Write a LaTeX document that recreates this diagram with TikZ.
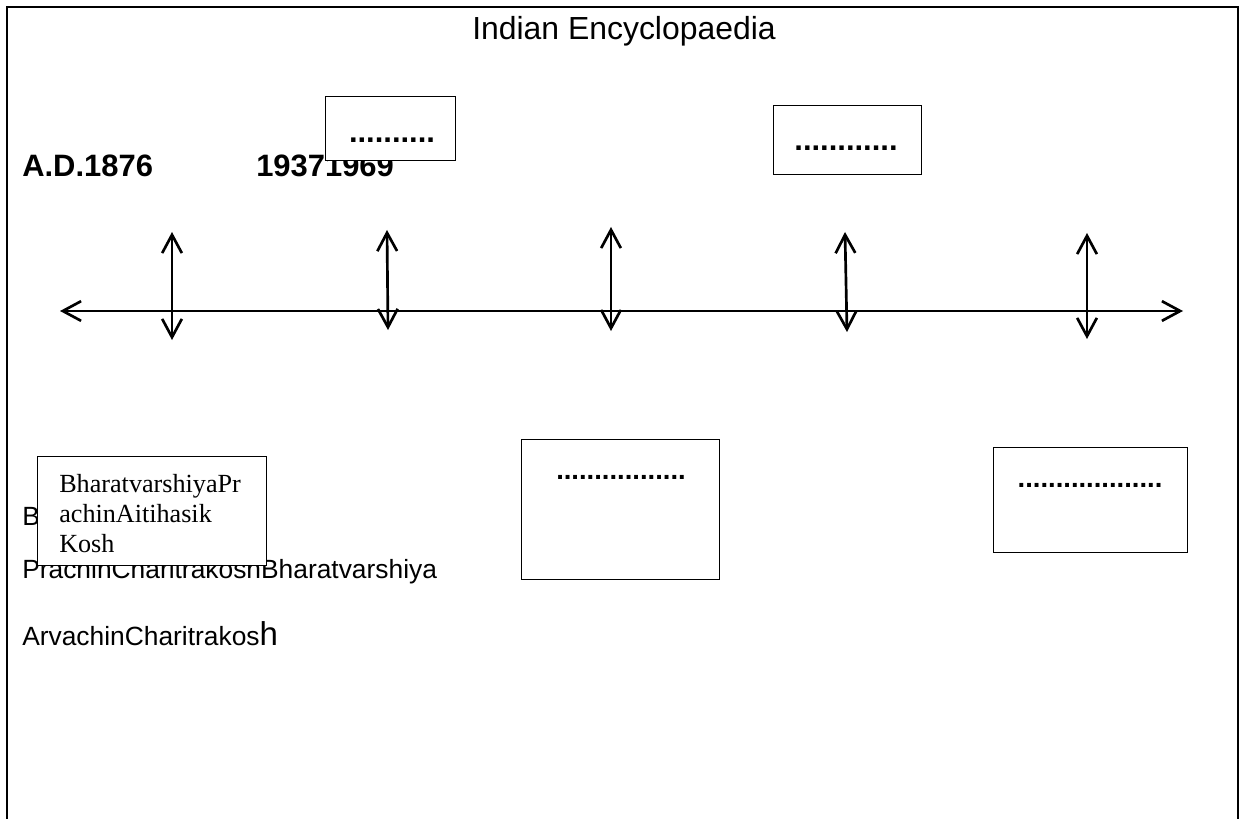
\documentclass[tikz,border=0pt]{standalone}
\usepackage{fontspec}
\setmainfont{Liberation Sans}
\newfontfamily\serifbox{Liberation Serif}
\usetikzlibrary{arrows.meta,positioning}

\tikzset{
  tline/.style={line width=1.9pt, >={Straight Barb[length=13pt,width=14pt]}},
  kbox/.style={draw, fill=white, line width=0.7pt, inner sep=0pt},
  year/.style={font=\fontsize{22}{26}\selectfont\bfseries, anchor=base west, inner sep=0pt},
  dotsbig/.style={font=\fontsize{22}{26}\selectfont\bfseries, anchor=base, inner sep=0pt},
  dotssmall/.style={font=\fontsize{19.5}{24}\selectfont\bfseries, anchor=base, inner sep=0pt},
  kosh/.style={font=\fontsize{18.75}{22}\selectfont, anchor=base west, inner sep=0pt}
}

\begin{document}
\begin{tikzpicture}[x=0.025cm, y=-0.025cm]
\useasboundingbox (0,0) rectangle (1240,819);
\draw[line width=1.8pt] (7,819) -- (7,7) -- (1238,7) -- (1238,819);

\node[font=\fontsize{22.7}{26}\selectfont, anchor=base, inner sep=0pt] (title) at (624,40) {Indian Encyclopaedia};

\node[year] (y1876) at (22,177) {A.D.1876};
\node[year] (y1937) at (256,177) {19371969};

% time line
\coordinate (tl-l) at (60,311);
\coordinate (tl-r) at (1183,311);
\draw[tline] (tl-l) edge[<->] (tl-r);

\foreach \n/\xt/\yt/\xb/\yb in {1/172/232/172/340, 2/387/230/388/330, 3/611/227/611/331, 4/845/232/847/332, 5/1087/233/1087/339}{
  \coordinate (up\n) at (\xt,\yt);
  \coordinate (dn\n) at (\xb,\yb);
  \draw[tline] (up\n) edge[<->] (dn\n);
}

% upper boxes
\node[kbox, minimum width=3.25cm, minimum height=1.575cm] (box1) at (390.5,128.5) {};
\node[dotsbig] (dots1) at (392,143) {..........};
\node[kbox, minimum width=3.7cm, minimum height=1.7cm] (box2) at (847,140) {};
\node[dotsbig] (dots2) at (846,151) {............};

% lower texts
\node[kosh] (b) at (22,525) {B};
\node[kosh] (pcb) at (22,578) {PrachinCharitrakoshBharatvarshiya};
\node[kosh] (ack) at (22,645) {ArvachinCharitrakos{\fontsize{23.5}{26}\selectfont h}};

% lower boxes
\node[kbox, minimum width=5.7cm, minimum height=2.7cm] (bpk) at (152,511) {};
\node[font=\serifbox\fontsize{18.6}{21.3}\selectfont, align=left, anchor=north west, inner sep=0pt] (bpktext) at (59,474) {BharatvarshiyaPr\\achinAitihasik\\Kosh};
\node[kbox, minimum width=4.925cm, minimum height=3.5cm] (box3) at (620.5,509.5) {};
\node[dotssmall] (dots3) at (621,479) {.................};
\node[kbox, minimum width=4.85cm, minimum height=2.6cm] (box4) at (1090,500) {};
\node[dotssmall] (dots4) at (1090,487) {...................};
\end{tikzpicture}
\end{document}
